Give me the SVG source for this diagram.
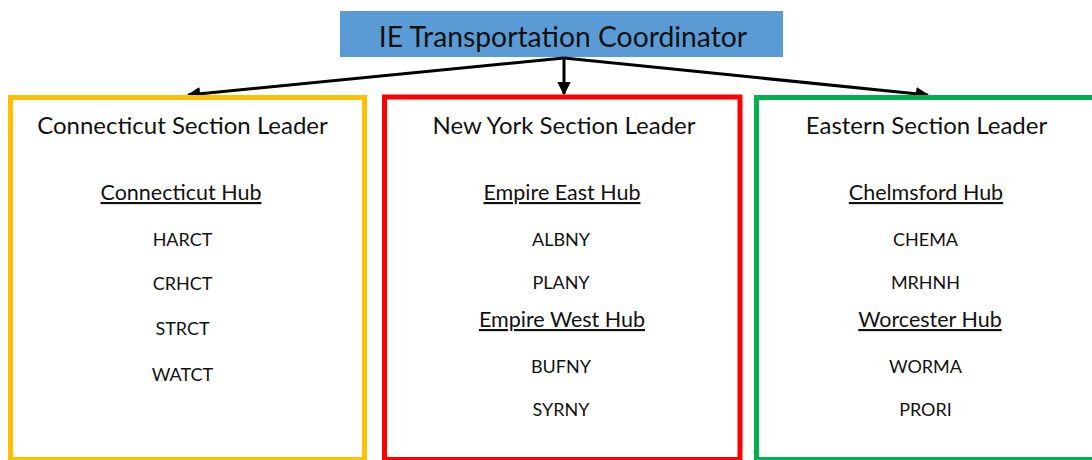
<svg xmlns="http://www.w3.org/2000/svg" width="1092" height="460" viewBox="0 0 1092 460">
  <style>
    text { font-family: Lato, "Noto Sans", sans-serif; fill: #111; text-anchor: middle; }
    .title { font-size: 28.3px; }
    .lead { font-size: 24px; }
    .hub { font-size: 21.5px; text-decoration: underline; }
    .site { font-size: 18px; }
    .box { fill: #fff; stroke-width: 5; }
    .link { stroke: #000; stroke-width: 3; fill: none; marker-end: url(#arrow); }
  </style>
  <defs>
    <marker id="arrow" viewBox="0 0 10 10" refX="9" refY="5" markerWidth="4.5" markerHeight="4.5" orient="auto" markerUnits="strokeWidth">
      <path d="M0,0 L10,5 L0,10 Z" fill="#000"/>
    </marker>
  </defs>
  <rect width="1092" height="460" fill="#fff"/>

  <g id="coordinator">
    <rect x="340" y="11" width="443" height="46" fill="#5B9BD5"/>
    <text class="title" x="563" y="47">IE Transportation Coordinator</text>
  </g>

  <g id="connectors">
    <path class="link" d="M564,58 L188,95"/>
    <path class="link" d="M564,58 L564,94"/>
    <path class="link" d="M564,58 L928,95"/>
  </g>

  <g id="connecticut">
    <rect class="box" x="10.5" y="97.5" width="354" height="362" stroke="#FFC000"/>
    <text class="lead" x="182.5" y="134">Connecticut Section Leader</text>
    <text class="hub" x="181" y="200">Connecticut Hub</text>
    <text class="site" x="182.5" y="246">HARCT</text>
    <text class="site" x="182.5" y="290">CRHCT</text>
    <text class="site" x="182.5" y="335">STRCT</text>
    <text class="site" x="182.5" y="381">WATCT</text>
  </g>

  <g id="new-york">
    <rect class="box" x="384.5" y="97" width="355.5" height="362.5" stroke="#FF0000"/>
    <text class="lead" x="564" y="134">New York Section Leader</text>
    <text class="hub" x="562" y="200">Empire East Hub</text>
    <text class="site" x="561" y="246">ALBNY</text>
    <text class="site" x="561" y="289">PLANY</text>
    <text class="hub" x="562" y="327">Empire West Hub</text>
    <text class="site" x="561" y="373">BUFNY</text>
    <text class="site" x="561" y="416">SYRNY</text>
  </g>

  <g id="eastern">
    <rect class="box" x="756.5" y="97.5" width="360" height="362" stroke="#00B050"/>
    <text class="lead" x="926.5" y="134">Eastern Section Leader</text>
    <text class="hub" x="926" y="200">Chelmsford Hub</text>
    <text class="site" x="925.5" y="246">CHEMA</text>
    <text class="site" x="925.5" y="289">MRHNH</text>
    <text class="hub" x="930" y="327">Worcester Hub</text>
    <text class="site" x="925.5" y="373">WORMA</text>
    <text class="site" x="925.5" y="416">PRORI</text>
  </g>
</svg>
